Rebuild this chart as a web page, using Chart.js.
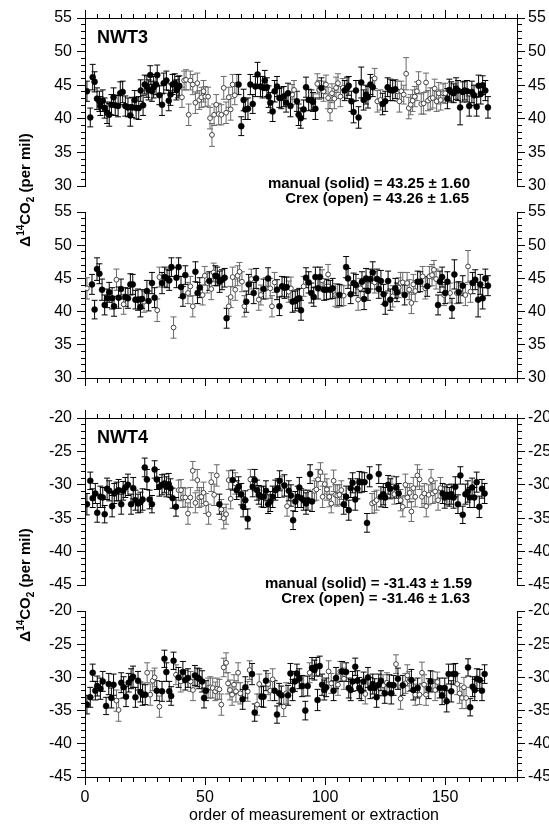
<!DOCTYPE html>
<html>
<head>
<meta charset="utf-8">
<script src="https://cdn.jsdelivr.net/npm/chart.js@4.4.1/dist/chart.umd.min.js"></script>
<style>
  html, body { margin: 0; padding: 0; background: #fff; }
  #wrap { position: relative; width: 549px; height: 825px; }
  #wrap canvas { position: absolute; left: 0; top: 0; }
</style>
</head>
<body>
<div id="wrap">
  <canvas id="c1" width="549" height="825"></canvas>
  <canvas id="c2" width="549" height="825"></canvas>
  <canvas id="c3" width="549" height="825"></canvas>
  <canvas id="c4" width="549" height="825"></canvas>
</div>
<script>
// rows are [order number, Δ14CO2 (per mil), 1-sigma error]
// NWT3, order of measurement
const nwt3MeasSolid = [[0.8,44.1,1.5],[2.2,40.2,1.4],[3.2,46.2,1.9],[4.0,45.5,1.5],[5.0,43.0,1.6],[6.0,42.6,1.5],[6.4,41.9,1.4],[7.4,42.7,1.6],[8.2,41.6,1.5],[9.2,40.9,1.6],[10.1,40.6,1.7],[11.0,42.1,1.5],[11.9,43.2,1.4],[12.6,42.0,1.5],[13.8,41.9,1.6],[14.7,43.8,1.7],[15.7,44.0,1.6],[16.8,41.9,1.5],[17.9,41.7,1.4],[18.9,40.5,1.6],[19.6,41.7,1.5],[20.7,42.8,1.4],[21.3,41.6,1.6],[22.4,41.6,1.7],[23.2,44.2,1.6],[24.2,42.0,1.5],[24.9,45.1,1.4],[25.8,44.8,1.6],[26.5,44.3,1.5],[27.2,46.5,1.4],[27.9,44.1,1.5],[28.6,44.7,1.6],[29.6,45.1,1.5],[30.1,46.5,1.5],[31.0,43.5,1.4],[32.1,42.1,1.6],[32.8,45.3,1.5],[33.9,45.7,1.4],[34.9,42.7,1.5],[35.6,43.6,1.6],[36.5,45.1,1.5],[37.4,45.3,1.4],[38.1,44.3,1.5],[38.8,44.7,1.6],[39.3,44.9,1.5],
  [64.0,45.1,1.5],[65.1,38.9,1.4],[66.1,42.8,1.6],[66.8,41.4,1.5],[67.9,41.5,1.6],[68.9,45.1,1.5],[69.9,42.2,1.4],[71.0,44.8,1.5],[71.9,46.6,1.8],[73.1,44.8,1.5],[74.0,44.7,1.6],[74.9,45.7,1.5],[75.8,44.7,1.4],[76.5,43.3,1.6],[77.2,42.4,1.5],[78.2,41.1,1.5],[79.0,44.1,1.6],[80.0,44.8,1.5],[81.0,43.1,1.4],[81.8,43.1,1.6],[82.8,43.3,1.5],[83.8,42.4,1.4],[84.6,43.8,1.5],[85.6,41.9,1.6],
  [88.3,42.6,1.5],[89.0,40.6,1.6],[89.9,40.1,1.5],[91.1,41.4,1.4],[92.1,44.7,1.5],[93.2,42.8,1.6],[94.3,42.8,1.5],[95.0,42.5,1.4],[96.0,41.5,1.6],[98.5,44.6,1.5],
  [108.2,44.2,1.5],[109.2,44.6,1.6],[109.9,44.9,1.4],[111.0,42.6,1.5],[111.9,41.0,1.6],[112.9,44.2,1.5],[114.0,40.2,1.6],[115.1,45.4,2.3],[116.1,42.8,1.5],[117.1,43.6,1.4],[117.9,43.2,1.6],[118.9,45.1,1.5],[119.9,44.7,1.4],
  [124.0,42.2,1.6],[125.1,42.6,1.5],[126.1,44.7,1.4],[127.2,44.3,1.6],[128.2,44.2,1.5],[129.3,44.4,1.4],
  [151.0,43.0,1.5],[151.8,44.3,1.6],[152.6,44.0,1.5],[153.6,43.8,1.4],[154.6,44.5,1.6],[155.4,44.2,1.5],[156.3,41.7,2.6],[157.4,44.0,1.5],[158.2,44.2,1.4],[159.2,44.1,1.6],[160.1,41.9,1.5],[161.2,44.0,1.6],[162.1,43.5,1.5],[163.2,41.8,1.4],[164.0,44.9,1.6],[164.9,43.7,1.5],[165.7,45.0,1.4],[166.8,44.2,1.5],[167.9,41.7,1.6]];
const nwt3MeasOpen = [[40.4,43.2,1.5],[41.3,45.7,1.4],[42.1,45.8,1.5],[43.2,40.6,1.6],[43.9,45.7,1.4],[44.9,45.1,1.5],[46.0,42.4,1.6],[46.8,45.3,1.5],[47.6,42.8,1.4],[48.5,43.2,1.5],[49.4,44.1,1.6],[50.1,43.3,1.5],[51.3,43.3,1.4],[52.1,40.1,1.6],[52.9,37.6,1.7],[53.8,40.6,1.6],[54.7,42.1,1.5],[55.7,40.7,1.6],[56.8,40.6,1.5],[57.8,44.6,1.7],[58.8,40.9,1.6],[59.9,43.2,1.5],[60.7,41.4,1.6],[61.5,45.1,1.5],[62.4,43.5,1.4],[63.3,45.1,1.5],
  [86.3,43.6,1.5],[87.1,44.3,1.4],[96.8,45.2,1.5],[97.6,44.3,1.4],
  [99.4,44.1,1.5],[100.4,45.1,1.4],[101.3,43.1,1.6],[102.1,41.2,1.5],[102.9,43.8,1.4],[103.9,43.0,1.5],[104.6,44.6,1.6],[105.4,45.3,1.4],[106.4,43.3,1.5],[107.4,44.6,1.4],
  [120.7,46.0,1.5],[121.8,42.6,1.6],[123.1,42.8,1.5],
  [130.1,44.1,1.5],[131.0,42.6,1.6],[131.8,44.1,1.5],[132.8,43.6,1.4],[133.8,46.7,2.4],[134.9,41.6,1.6],[135.7,42.1,1.5],[136.5,42.7,1.6],[137.4,43.3,1.5],[138.3,44.1,1.4],[139.0,45.4,1.6],[140.1,42.2,1.5],[141.1,42.3,1.6],[142.1,45.4,1.4],[142.9,42.7,1.5],[143.9,43.0,1.6],[144.9,43.1,1.5],[145.7,44.5,1.4],[146.5,42.6,1.5],[147.4,43.8,1.6],[148.2,42.8,1.5],[149.2,43.8,1.4],[150.1,43.8,1.5]];

// NWT3, order of extraction
const nwt3ExtrSolid = [[2.9,44.1,1.5],[4.0,40.3,1.4],[5.0,46.4,1.7],[6.0,45.7,1.5],[7.1,43.3,1.6],[8.2,41.0,1.5],[9.2,42.0,1.4],[10.1,42.9,1.5],[11.3,42.0,1.6],[12.1,40.8,1.5],[14.0,42.1,1.6],[15.0,43.4,1.5],[16.8,42.2,1.4],[17.9,42.0,1.5],[18.9,44.1,1.6],[19.9,44.1,1.5],[21.0,41.8,1.4],[22.1,41.8,1.6],[23.1,40.7,1.5],[23.8,41.9,1.4],[25.8,43.1,1.6],[26.5,41.6,1.5],[27.9,44.3,1.6],[29.0,42.1,1.5],[32.1,44.3,1.6],[33.2,45.2,1.5],[34.2,45.0,1.4],[35.1,44.7,1.5],[36.0,46.7,1.4],[38.1,45.1,1.5],[39.0,46.7,1.4],[40.0,43.7,1.6],[40.8,42.3,1.5],[41.8,45.5,1.4],[46.0,46.0,1.5],[46.9,42.8,1.6],[47.8,43.6,1.5],[51.8,44.6,1.4],[54.3,45.4,1.5],[55.1,45.3,1.4],[56.1,44.5,1.6],[57.1,44.8,1.5],[58.2,45.1,1.4],[59.0,39.0,1.5],[67.2,41.5,1.6],[68.2,44.1,1.5],[70.3,42.8,1.6],[71.3,45.0,1.5],[74.4,43.4,1.5],[76.3,45.0,1.6],[80.0,43.3,1.5],[81.0,40.8,1.4],[82.1,43.8,1.5],[83.1,43.6,1.6],[84.0,43.7,1.5],[86.5,41.5,1.6],[87.6,41.6,1.5],[88.5,41.9,1.4],[89.3,42.0,1.5],[90.0,40.2,1.5],[92.1,45.1,1.5],[93.2,44.4,1.6],[94.3,42.8,1.5],[95.3,42.2,1.4],[96.0,45.2,1.5],[97.1,43.5,1.6],[97.9,45.2,1.5],[99.6,43.3,1.6],[100.6,43.3,1.5],[102.2,43.3,1.4],[103.2,43.5,1.5],[106.0,42.5,1.6],[108.8,46.7,1.6],[109.6,45.0,1.5],[110.7,42.6,1.4],[111.9,44.3,1.5],[112.9,44.0,1.6],[115.4,44.5,1.5],[116.3,41.9,1.6],[117.1,45.0,1.5],[117.9,43.1,1.4],[118.9,44.9,1.5],[119.9,45.9,1.6],[121.7,44.9,1.5],[122.4,43.4,1.4],[123.3,44.6,1.6],[124.4,42.6,1.5],[125.1,41.2,1.6],[126.3,44.6,1.5],[127.2,41.8,1.6],[129.3,43.5,1.5],[130.0,42.9,1.4],[133.2,42.5,1.5],[138.6,44.5,1.6],[139.7,44.5,1.5],[142.6,43.8,1.5],[147.1,41.0,1.5],[147.9,44.5,1.6],[148.8,45.2,1.5],[150.1,42.8,1.6],[151.0,44.5,1.5],[152.9,40.5,1.5],[153.9,45.6,2.2],[155.7,42.9,1.6],[157.4,43.9,1.5],[161.5,44.3,1.6],[162.6,44.8,1.5],[163.8,41.8,2.6],[164.7,44.1,1.5],[165.7,42.0,1.6],[166.8,45.0,1.4],[167.9,43.9,1.5]];
const nwt3ExtrOpen = [[0.8,43.5,1.6],[13.1,44.8,1.6],[16.1,41.1,1.5],[24.6,41.5,1.6],[30.1,40.2,1.7],[31.0,45.2,1.5],[36.9,37.6,1.6],[42.9,42.8,1.6],[43.9,43.8,1.5],[44.9,40.8,1.6],[49.0,42.5,1.5],[49.9,45.4,1.4],[51.0,44.3,1.5],[52.6,43.4,1.6],[53.6,45.9,1.4],[59.9,40.8,1.5],[60.7,42.2,1.6],[61.5,45.2,1.5],[62.6,43.3,1.6],[63.6,45.4,1.5],[64.4,46.0,1.4],[65.4,44.5,1.5],[66.4,40.8,1.6],[69.3,44.9,1.5],[72.4,41.8,1.6],[73.3,42.5,1.5],[75.4,43.5,1.6],[77.2,43.5,1.5],[77.9,40.8,1.6],[79.0,44.4,1.5],[84.9,43.0,1.6],[85.8,43.5,1.7],[91.1,43.8,1.5],[98.8,44.7,1.6],[101.3,45.6,1.5],[104.3,42.5,1.7],[105.1,42.4,1.8],[106.8,42.4,1.6],[107.8,42.4,1.5],[113.8,41.8,1.6],[114.7,43.5,1.5],[120.7,44.4,1.6],[128.2,42.3,1.6],[130.7,43.6,1.5],[131.5,44.3,1.6],[132.4,44.4,1.5],[134.2,44.3,1.6],[135.1,43.3,1.5],[136.0,41.3,1.6],[136.8,44.1,1.5],[137.6,43.1,1.6],[140.7,45.3,1.5],[141.8,43.5,1.6],[143.5,45.3,1.5],[144.6,45.5,1.6],[145.4,46.3,1.4],[146.3,44.9,1.5],[149.6,42.5,1.6],[152.1,42.8,1.5],[154.9,42.8,1.6],[156.5,42.8,1.5],[158.5,42.5,1.6],[159.6,46.8,2.4],[160.6,43.0,1.6]];

// NWT4, order of measurement
const nwt4MeasSolid = [[0.8,-32.9,1.6],[2.2,-29.4,1.3],[3.2,-32.0,1.4],[4.3,-31.3,1.5],[5.1,-34.2,1.4],[6.4,-31.8,1.6],[7.4,-31.9,1.5],[8.2,-34.4,1.3],[9.2,-30.6,1.6],[10.1,-30.9,1.5],[11.3,-33.2,1.6],[12.2,-31.3,1.5],[13.2,-31.0,1.4],[14.0,-30.8,1.6],[15.1,-32.9,1.5],[15.9,-30.9,1.4],[16.8,-30.4,1.5],[17.9,-30.0,1.6],[19.2,-32.9,1.5],[20.1,-30.5,1.6],[21.0,-32.3,1.5],[22.1,-32.8,1.4],[23.1,-32.6,1.5],[24.0,-32.2,1.6],[24.9,-27.4,1.4],[25.8,-29.2,1.5],[26.9,-32.2,1.4],[27.9,-32.9,1.3],[29.0,-27.7,1.3],[29.9,-29.2,1.5],[31.0,-30.3,1.4],[32.1,-30.0,1.5],[33.1,-29.8,1.4],[33.9,-30.3,1.5],[34.9,-29.9,1.6],[35.6,-30.5,1.4],[36.5,-32.0,1.5],[37.9,-33.3,1.4],
  [56.0,-32.9,1.5],[61.5,-29.3,1.5],[63.2,-30.8,1.4],[64.0,-30.3,1.5],[65.1,-31.4,1.6],[65.9,-33.3,1.5],[66.8,-32.3,1.4],[67.8,-35.1,1.5],[69.9,-30.3,1.5],[70.7,-29.3,1.6],[71.7,-30.8,1.5],[72.4,-31.5,1.4],[73.5,-31.8,1.5],[74.4,-31.8,1.6],[75.4,-30.9,1.5],[76.3,-32.9,1.4],[77.2,-32.5,1.5],[78.2,-31.8,1.6],[79.3,-30.8,1.5],[80.3,-30.5,1.4],[81.1,-29.4,1.5],[83.1,-30.1,1.6],[84.9,-30.9,1.5],[85.8,-31.6,1.6],[86.7,-35.3,1.4],[87.6,-32.5,1.5],[88.6,-31.8,1.6],[89.3,-30.4,1.5],[90.1,-32.0,1.4],[91.1,-32.3,1.5],[92.1,-32.8,1.6],[92.9,-32.3,1.5],[93.8,-28.4,1.4],[94.6,-32.5,1.5],
  [107.8,-32.9,1.5],[108.8,-31.8,1.6],[109.9,-33.8,1.5],[110.7,-30.5,1.4],[111.5,-29.7,1.5],[112.6,-32.2,1.6],[113.5,-30.6,1.5],[114.3,-29.6,1.6],[115.4,-29.6,1.5],[116.5,-29.6,1.4],[117.5,-35.7,1.4],[118.6,-28.8,1.5],
  [122.4,-28.4,1.4],[123.3,-31.8,1.5],[124.3,-31.4,1.6],[125.1,-31.9,1.5],[126.3,-30.0,1.4],[127.2,-30.6,1.5],[129.7,-30.4,1.6],[130.7,-31.3,1.5],
  [149.0,-31.3,1.5],[149.9,-31.9,1.6],[150.8,-31.5,1.5],[151.8,-31.8,1.4],[152.6,-31.4,1.5],[153.6,-31.9,1.6],[154.3,-30.3,1.5],[155.4,-32.9,1.4],[156.4,-28.6,1.3],[157.4,-34.5,1.3],[158.5,-31.4,1.5],[159.5,-31.0,1.6],[160.3,-31.9,1.5],[161.3,-30.4,1.4],[162.2,-31.9,1.5],[163.2,-29.6,1.5],[164.3,-33.3,1.6],[165.4,-30.6,1.4],[166.5,-31.3,1.5]];
const nwt4MeasOpen = [[39.0,-30.8,1.5],[40.0,-30.8,1.6],[40.8,-31.9,1.5],[41.8,-31.9,1.4],[42.9,-34.3,1.6],[43.9,-31.9,1.5],[44.9,-27.9,1.4],[46.0,-32.7,1.5],[46.8,-29.3,1.6],[47.6,-31.9,1.5],[48.5,-31.8,1.4],[49.4,-31.2,1.6],[50.4,-32.8,1.5],[51.5,-34.4,1.5],[52.6,-29.6,1.4],[53.8,-31.5,1.6],[54.9,-28.6,1.6],[56.8,-33.7,1.5],[57.8,-35.0,1.6],[58.8,-34.4,1.5],[59.9,-29.3,1.4],[60.7,-32.1,1.5],[62.6,-29.8,1.6],[68.9,-29.2,1.5],[82.1,-30.3,1.6],[84.2,-33.2,1.5],
  [95.6,-30.9,1.5],[96.4,-30.7,1.6],[97.1,-29.2,1.5],[98.1,-28.1,1.4],[99.0,-31.8,1.6],[99.9,-29.9,1.5],[100.8,-30.7,1.6],[101.8,-31.8,1.5],[102.6,-32.8,1.4],[103.6,-29.4,1.6],[104.3,-31.5,1.5],[105.1,-31.6,1.6],[106.0,-31.5,1.5],[106.8,-30.8,1.4],
  [119.6,-32.8,1.5],[120.6,-32.6,1.6],[121.5,-32.3,1.5],[127.9,-30.3,1.6],[128.9,-31.4,1.5],[131.5,-32.3,1.6],[132.4,-33.3,1.5],[133.5,-30.0,1.6],[134.3,-31.9,1.5],[135.3,-31.2,1.4],[136.0,-34.0,1.5],[136.8,-30.5,1.6],[137.6,-31.8,1.5],[138.5,-28.6,1.6],[139.4,-29.2,1.5],[140.4,-31.8,1.6],[141.4,-31.3,1.5],[142.2,-33.2,1.6],[143.2,-31.5,1.5],[144.2,-29.3,1.6],[144.9,-31.3,1.5],[145.9,-31.0,1.6],[147.1,-32.3,1.5],[148.1,-30.5,1.6]];

// NWT4, order of extraction
const nwt4ExtrSolid = [[0.8,-34.1,1.4],[2.2,-33.0,1.5],[3.2,-29.3,1.3],[4.3,-32.0,1.4],[5.1,-31.3,1.5],[6.4,-31.7,1.6],[7.4,-30.6,1.5],[8.8,-34.3,1.3],[9.9,-31.0,1.6],[11.0,-33.1,1.5],[11.9,-31.1,1.6],[15.1,-30.8,1.5],[16.1,-31.5,1.6],[17.1,-32.9,1.5],[18.2,-30.8,1.4],[19.2,-30.2,1.5],[20.0,-29.9,1.6],[21.0,-33.0,1.5],[22.1,-30.5,1.4],[23.1,-32.2,1.5],[24.0,-32.6,1.6],[25.1,-32.6,1.5],[29.9,-32.0,1.5],[32.1,-32.1,1.5],[33.1,-27.2,1.3],[33.9,-29.2,1.4],[35.1,-32.1,1.5],[35.9,-32.8,1.4],[36.9,-27.5,1.3],[39.0,-30.0,1.5],[40.8,-29.2,1.6],[41.8,-30.4,1.5],[42.9,-30.1,1.4],[45.8,-29.7,1.5],[46.8,-30.0,1.4],[47.6,-30.2,1.5],[48.8,-30.6,1.6],[49.6,-33.1,1.5],[50.4,-32.0,1.5],
  [65.7,-33.3,1.5],[66.8,-31.5,1.6],[69.6,-29.5,1.6],[70.7,-35.3,1.3],[73.5,-32.9,1.5],[74.4,-32.9,1.6],[75.4,-30.5,1.5],[79.0,-32.0,1.5],[80.0,-35.6,1.3],[80.9,-32.4,1.5],[81.8,-32.7,1.4],[84.6,-32.7,1.5],[85.6,-29.4,1.5],[86.5,-31.9,1.6],[87.4,-30.6,1.5],[88.3,-29.4,1.4],[89.3,-30.2,1.5],[90.4,-31.3,1.6],[91.8,-35.0,1.4],[92.8,-31.3,1.5],[94.6,-28.6,1.6],[95.6,-28.9,1.5],[96.3,-28.4,1.4],[96.9,-33.4,1.6],[97.8,-28.3,1.5],[98.8,-31.1,1.6],[99.7,-31.9,1.5],[100.5,-31.5,1.4],[103.6,-32.0,1.5],[104.6,-30.1,1.6],[107.1,-29.1,1.5],[108.8,-29.2,1.4],[109.9,-31.6,1.5],[110.7,-31.9,1.6],[111.5,-30.6,1.5],[112.6,-28.4,1.3],[113.5,-30.5,1.5],[114.3,-31.6,1.6],[115.1,-32.0,1.5],[116.1,-30.6,1.4],[117.9,-30.0,1.5],[118.9,-31.6,1.6],[119.9,-31.0,1.5],[120.7,-31.6,1.4],[121.5,-33.0,1.5],[122.4,-31.1,1.6],[123.3,-30.5,1.5],[124.9,-32.4,1.5],[126.8,-31.1,1.5],[127.6,-32.4,1.6],[128.6,-31.2,1.5],[130.4,-30.2,1.6],[132.4,-31.2,1.5],[136.0,-30.4,1.6],[136.8,-31.9,1.5],[138.6,-31.6,1.5],[143.2,-31.7,1.5],[144.0,-30.6,1.6],[147.8,-31.6,1.5],[148.8,-32.7,1.4],[149.9,-31.6,1.5],[150.7,-33.6,1.6],[151.5,-29.5,1.5],[152.6,-32.1,1.6],[153.5,-29.5,1.5],[154.3,-29.5,1.6],[159.6,-28.5,1.3],[160.5,-34.5,1.3],[161.5,-31.4,1.5],[162.4,-31.9,1.6],[163.3,-30.2,1.5],[164.5,-30.4,1.6],[165.4,-32.0,1.5],[166.5,-29.5,1.4]];
const nwt4ExtrOpen = [[13.1,-33.5,1.6],[14.0,-34.9,1.7],[25.9,-29.3,1.5],[27.2,-32.6,1.6],[28.2,-30.5,1.5],[29.0,-30.0,1.4],[31.0,-34.4,1.6],[37.9,-29.6,1.5],[39.9,-30.6,1.6],[44.0,-30.6,1.5],[45.0,-31.9,1.6],[51.3,-31.6,1.5],[52.2,-31.5,1.6],[53.2,-31.6,1.5],[54.3,-32.1,1.4],[55.1,-31.7,1.6],[56.0,-31.8,1.5],[56.8,-34.1,1.6],[57.8,-28.5,1.4],[58.8,-27.8,1.5],[59.6,-30.9,1.6],[60.4,-31.9,1.5],[61.3,-32.6,1.6],[62.1,-31.1,1.5],[62.9,-32.1,1.6],[63.8,-29.3,1.5],[64.7,-32.4,1.6],[67.8,-32.1,1.5],[68.6,-28.9,1.4],[71.7,-34.1,1.6],[72.6,-31.0,1.5],[76.3,-31.0,1.6],[77.2,-32.0,1.5],[78.2,-30.3,1.6],[82.8,-34.4,1.5],[83.8,-32.4,1.6],[91.1,-31.3,1.5],[93.6,-29.3,1.5],
  [101.5,-29.1,1.6],[102.6,-30.9,1.5],[105.4,-31.1,1.6],[106.4,-29.1,1.5],[107.9,-30.2,1.6],[116.8,-32.5,1.5],[124.2,-31.2,1.6],[125.8,-30.8,1.5],[129.6,-28.0,1.4],[131.5,-33.2,1.6],[133.5,-30.9,1.5],[134.3,-29.7,1.6],[135.1,-30.6,1.5],[137.6,-32.6,1.6],[139.4,-32.6,1.5],[140.4,-29.3,1.6],[141.3,-31.1,1.5],[142.1,-32.6,1.6],[144.9,-30.6,1.5],[145.9,-31.9,1.6],[146.8,-30.7,1.5],[155.1,-31.0,1.6],[156.1,-32.4,1.5],[157.1,-33.1,1.6],[157.9,-31.5,1.5],[158.8,-33.1,1.6]];

const nwt3Stats = ['manual (solid) = 43.25 \u00b1 1.60', 'Crex (open) = 43.26 \u00b1 1.65'];
const nwt4Stats = ['manual (solid) = -31.43 \u00b1 1.59', 'Crex (open) = -31.46 \u00b1 1.63'];
const xTicksLabelled = [0, 50, 100, 150];

const FONT = '"Liberation Sans", Arial, Helvetica, sans-serif';
Chart.defaults.font.family = FONT;
Chart.defaults.color = '#000';

function pts(rows) { return rows.map(r => ({x: r[0], y: r[1]})); }
function bars(rows) {
  const out = [];
  rows.forEach(r => { out.push({x: r[0], y: r[1] - r[2]}, {x: r[0], y: r[1] + r[2]}, {x: r[0], y: null}); });
  return out;
}
function caps(rows) { return rows.flatMap(r => [{x: r[0], y: r[1] - r[2]}, {x: r[0], y: r[1] + r[2]}]); }

const isMult = (v, m) => Math.abs(v / m - Math.round(v / m)) < 1e-6;
// minor tick marks are drawn half length with a dash pattern
const dashIn = (m) => c => (c.tick && isMult(c.tick.value, m)) ? [] : [0, 4, 4, 100];
const dashOut = (m) => c => (c.tick && isMult(c.tick.value, m)) ? [] : [4, 100];

function drawYTitle(ctx, x, cy) {
  const parts = [
    {t: '\u0394', size: 15, dy: 0},
    {t: '14', size: 10, dy: -6},
    {t: 'CO', size: 15, dy: 0},
    {t: '2', size: 10, dy: 4},
    {t: ' (per mil)', size: 15, dy: 0}
  ];
  ctx.save();
  ctx.translate(x, cy);
  ctx.rotate(-Math.PI / 2);
  let w = 0;
  parts.forEach(p => { ctx.font = 'bold ' + p.size + 'px ' + FONT; p.w = ctx.measureText(p.t).width; w += p.w; });
  let px = -w / 2;
  ctx.fillStyle = '#000';
  ctx.textAlign = 'left';
  ctx.textBaseline = 'alphabetic';
  parts.forEach(p => { ctx.font = 'bold ' + p.size + 'px ' + FONT; ctx.fillText(p.t, px, p.dy); px += p.w; });
  ctx.restore();
}

function drawText(ctx, t, x, y, font, align) {
  ctx.save();
  ctx.font = font;
  ctx.fillStyle = '#000';
  ctx.textAlign = align;
  ctx.textBaseline = 'alphabetic';
  ctx.fillText(t, x, y);
  ctx.restore();
}

const panels = [
  {id: 'c1', solid: nwt3MeasSolid, open: nwt3MeasOpen, yMin: 30, yMax: 55, top: 18, bottom: 186, xPos: 'top',
    notes(ctx) {
      drawText(ctx, 'NWT3', 97, 43, 'bold 18px ' + FONT, 'left');
      drawText(ctx, nwt3Stats[0], 470, 188, 'bold 15px ' + FONT, 'right');
      drawText(ctx, nwt3Stats[1], 469, 203, 'bold 15px ' + FONT, 'right');
      drawYTitle(ctx, 30, 190);
    }},
  {id: 'c2', solid: nwt3ExtrSolid, open: nwt3ExtrOpen, yMin: 30, yMax: 55, top: 212, bottom: 378, xPos: 'bottom'},
  {id: 'c3', solid: nwt4MeasSolid, open: nwt4MeasOpen, yMin: -45, yMax: -20, top: 418, bottom: 585, xPos: 'top',
    notes(ctx) {
      drawText(ctx, 'NWT4', 97, 443, 'bold 18px ' + FONT, 'left');
      drawText(ctx, nwt4Stats[0], 472, 588, 'bold 15px ' + FONT, 'right');
      drawText(ctx, nwt4Stats[1], 470, 603, 'bold 15px ' + FONT, 'right');
      drawYTitle(ctx, 30, 585);
    }},
  {id: 'c4', solid: nwt4ExtrSolid, open: nwt4ExtrOpen, yMin: -45, yMax: -20, top: 611, bottom: 777, xPos: 'bottom', xLabels: true,
    notes(ctx) {
      drawText(ctx, 'order of measurement or extraction', 314, 820, '16px ' + FONT, 'center');
    }}
];

panels.forEach(p => {
  const xH = p.xLabels ? 48 : 10;
  const padTop = p.xPos === 'top' ? p.top - xH : p.top;
  const padBottom = p.xPos === 'top' ? 825 - p.bottom : 825 - p.bottom - xH;
  const yAxis = (pos) => ({
    type: 'linear',
    position: pos,
    min: p.yMin,
    max: p.yMax,
    afterFit(s) { s.width = pos === 'left' ? 85 : 32; },
    border: {display: true, color: '#000', width: 1},
    grid: {drawOnChartArea: false, tickLength: 8, color: '#000', tickColor: '#000', tickWidth: 1,
      tickBorderDash: pos === 'left' ? dashIn(5) : dashOut(5)},
    ticks: {stepSize: 1, autoSkip: false, padding: pos === 'left' ? 5 : 3, font: {size: 16},
      callback: v => isMult(v, 5) ? String(v) : ''}
  });

  new Chart(document.getElementById(p.id), {
    type: 'scatter',
    data: {
      datasets: [
        {data: pts(p.solid), pointRadius: 3, pointBackgroundColor: '#000', pointBorderColor: '#000', pointBorderWidth: 0.5, order: 0},
        {data: pts(p.open), pointRadius: 2.4, pointBackgroundColor: '#fff', pointBorderColor: '#444', pointBorderWidth: 1, order: 1},
        {data: bars(p.solid), showLine: true, borderColor: '#000', borderWidth: 1, pointRadius: 0, order: 3},
        {data: caps(p.solid), pointStyle: 'line', pointRadius: 3, pointBorderColor: '#000', pointBorderWidth: 1, order: 3},
        {data: bars(p.open), showLine: true, borderColor: '#6a6a6a', borderWidth: 1, pointRadius: 0, order: 4},
        {data: caps(p.open), pointStyle: 'line', pointRadius: 3, pointBorderColor: '#6a6a6a', pointBorderWidth: 1, order: 4}
      ]
    },
    options: {
      responsive: false,
      animation: false,
      devicePixelRatio: 1,
      events: [],
      layout: {padding: {top: padTop, bottom: padBottom, left: 0, right: 0}},
      plugins: {legend: {display: false}, tooltip: {enabled: false}},
      scales: {
        x: {
          type: 'linear',
          position: p.xPos,
          min: 0,
          max: 180,
          afterFit(s) { s.height = xH; },
          border: {display: true, color: '#000', width: 1},
          grid: {drawOnChartArea: false, tickLength: 8, color: '#000', tickColor: '#000', tickWidth: 1,
            tickBorderDash: p.xPos === 'top' ? dashIn(50) : dashOut(50)},
          ticks: {stepSize: 5, autoSkip: false, maxRotation: 0, padding: 3, font: {size: 16},
            callback: v => (p.xLabels && xTicksLabelled.includes(v)) ? String(v) : ''}
        },
        y: yAxis('left'),
        y2: yAxis('right')
      }
    },
    plugins: [{id: 'notes', afterDraw(chart) { if (p.notes) p.notes(chart.ctx); }}]
  });
});
</script>
</body>
</html>
